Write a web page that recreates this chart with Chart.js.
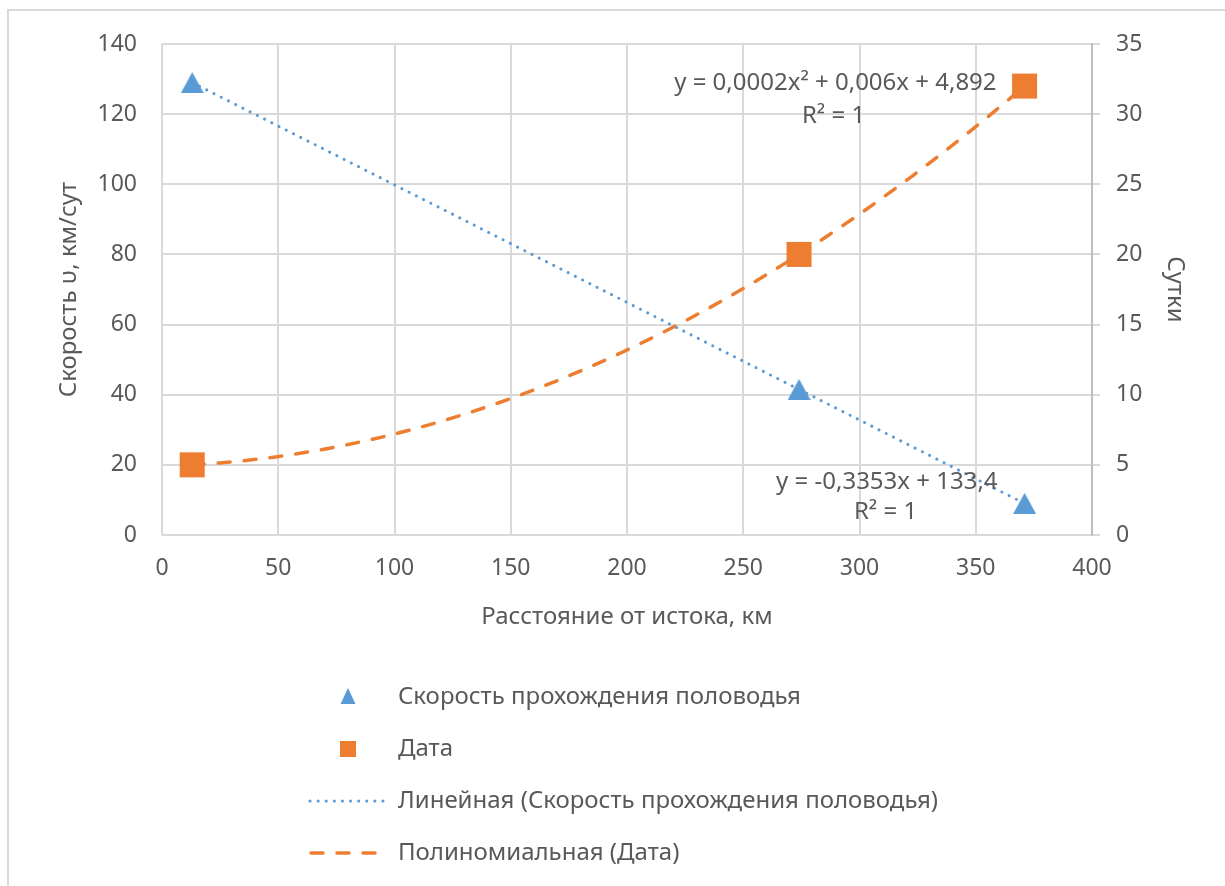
<!DOCTYPE html>
<html><head><meta charset="utf-8">
<script src="https://cdn.jsdelivr.net/npm/chart.js@4"></script>
<style>
html,body{margin:0;padding:0;background:#fff;overflow:hidden;width:1225px;height:886px}
#frame{position:absolute;left:7px;top:9px;width:1400px;height:1000px;border:2px solid #d9d9d9;box-sizing:border-box}
#wrap{position:absolute;left:0;top:0;width:1225px;height:886px}
</style></head><body>
<div id="frame"></div>
<div id="wrap"><canvas id="c"></canvas></div>
<script>
// ---- data ----
const distanceKm = [13, 274, 371];
const speedKmPerDay = [129, 41.5, 9];
const days = [5, 20, 32];
const seriesNames = ['Скорость прохождения половодья', 'Дата',
  'Линейная (Скорость прохождения половодья)', 'Полиномиальная (Дата)'];
const trendEquations = ['y = -0,3353x + 133,4', 'y = 0,0002x² + 0,006x + 4,892'];
const trendR2 = ['R² = 1', 'R² = 1'];
const xTitle = 'Расстояние от истока, км';
const yTitle = 'Скорость υ, км/сут';
const y2Title = 'Сутки';

const FONT = '"Noto Sans", "Open Sans", sans-serif';
const TXT = '#595959';
const GRID = '#d9d9d9';
const BLUE = '#5B9BD5';
const ORANGE = '#ED7D31';

// least squares fits (as the spreadsheet trendlines do)
function fitLinear(xs, ys) {
  const n = xs.length;
  const mx = xs.reduce((a, b) => a + b) / n, my = ys.reduce((a, b) => a + b) / n;
  let sxy = 0, sxx = 0;
  for (let i = 0; i < n; i++) { sxy += (xs[i] - mx) * (ys[i] - my); sxx += (xs[i] - mx) ** 2; }
  const b = sxy / sxx; return [my - b * mx, b];
}
function fitQuad(xs, ys) {
  const S = k => xs.reduce((a, x) => a + x ** k, 0);
  const T = k => xs.reduce((a, x, i) => a + ys[i] * x ** k, 0);
  const M = [[S(0), S(1), S(2), T(0)], [S(1), S(2), S(3), T(1)], [S(2), S(3), S(4), T(2)]];
  for (let i = 0; i < 3; i++) {
    for (let j = i + 1; j < 3; j++) {
      const f = M[j][i] / M[i][i];
      for (let k = i; k < 4; k++) M[j][k] -= f * M[i][k];
    }
  }
  const c = [0, 0, 0];
  for (let i = 2; i >= 0; i--) {
    let s = M[i][3];
    for (let k = i + 1; k < 3; k++) s -= M[i][k] * c[k];
    c[i] = s / M[i][i];
  }
  return c;
}
const lin = fitLinear(distanceKm, speedKmPerDay);
const quad = fitQuad(distanceKm, days);
const xMin = Math.min(...distanceKm), xMax = Math.max(...distanceKm);
const linPts = [xMin, xMax].map(x => ({x, y: lin[0] + lin[1] * x}));
const quadPts = [];
for (let i = 0; i <= 60; i++) {
  const x = xMin + (xMax - xMin) * i / 60;
  quadPts.push({x, y: quad[0] + quad[1] * x + quad[2] * x * x});
}

// triangle marker centred on its bounding box (as in the spreadsheet)
function makeTriangle(w, h, color) {
  const c = document.createElement('canvas');
  c.width = w; c.height = h;
  const g = c.getContext('2d');
  g.fillStyle = color;
  g.beginPath(); g.moveTo(w / 2, 0); g.lineTo(w, h); g.lineTo(0, h); g.closePath(); g.fill();
  return c;
}
const triMarker = makeTriangle(23, 21, BLUE);

const legendPlugin = {
  id: 'vlegend',
  afterDraw(chart) {
    const ctx = chart.ctx;
    ctx.save();
    const rows = [697, 749, 801, 853];
    const symX = 348, textX = 398;
    ctx.font = '24px ' + FONT;
    ctx.fillStyle = TXT;
    ctx.textBaseline = 'middle';
    ctx.textAlign = 'left';
    seriesNames.forEach((t, i) => ctx.fillText(t, textX, rows[i]));
    ctx.fillStyle = BLUE;
    ctx.beginPath();
    ctx.moveTo(symX, rows[0] - 9); ctx.lineTo(symX + 7.5, rows[0] + 7); ctx.lineTo(symX - 7.5, rows[0] + 7);
    ctx.closePath(); ctx.fill();
    ctx.fillStyle = ORANGE;
    ctx.fillRect(symX - 8, rows[1] - 8, 16, 16);
    ctx.lineCap = 'round';
    ctx.strokeStyle = BLUE; ctx.lineWidth = 3; ctx.setLineDash([0.1, 8]);
    ctx.beginPath(); ctx.moveTo(310, rows[2]); ctx.lineTo(384, rows[2]); ctx.stroke();
    ctx.strokeStyle = ORANGE; ctx.lineWidth = 3.5; ctx.setLineDash([12, 14]);
    ctx.beginPath(); ctx.moveTo(311, rows[3]); ctx.lineTo(388, rows[3]); ctx.stroke();
    ctx.restore();
  }
};

const labelPlugin = {
  id: 'trendLabels',
  afterDatasetsDraw(chart) {
    const ctx = chart.ctx;
    const xs = chart.scales.x, y2 = chart.scales.y2, y = chart.scales.y;
    ctx.save();
    ctx.font = '24px ' + FONT;
    ctx.fillStyle = TXT;
    ctx.textBaseline = 'middle';
    const px = xs.getPixelForValue(distanceKm[2]), py = y2.getPixelForValue(days[2]);
    ctx.textAlign = 'right';
    ctx.fillText(trendEquations[1], px - 28, py - 3);
    ctx.textAlign = 'center';
    ctx.fillText(trendR2[1], px - 191, py + 30);
    const qx = xs.getPixelForValue(distanceKm[2]), qy = y.getPixelForValue(speedKmPerDay[2]);
    ctx.textAlign = 'right';
    ctx.fillText(trendEquations[0], qx - 27, qy - 21);
    ctx.textAlign = 'center';
    ctx.fillText(trendR2[0], qx - 139, qy + 9);
    ctx.restore();
  }
};

new Chart(document.getElementById('c'), {
  type: 'scatter',
  data: {
    datasets: [
      {label: seriesNames[0], data: distanceKm.map((x, i) => ({x, y: speedKmPerDay[i]})), yAxisID: 'y',
       pointStyle: triMarker, pointRadius: 12, backgroundColor: BLUE, borderColor: BLUE, borderWidth: 0},
      {label: seriesNames[1], data: distanceKm.map((x, i) => ({x, y: days[i]})), yAxisID: 'y2',
       pointStyle: 'rect', pointRadius: 17.7, backgroundColor: ORANGE, borderColor: ORANGE, borderWidth: 0},
      {label: seriesNames[2], data: linPts, yAxisID: 'y', showLine: true, pointRadius: 0,
       borderColor: BLUE, borderWidth: 3, borderDash: [0.1, 8], borderCapStyle: 'round', fill: false},
      {label: seriesNames[3], data: quadPts, yAxisID: 'y2', showLine: true, pointRadius: 0, tension: 0,
       borderColor: ORANGE, borderWidth: 3.5, borderDash: [12, 14], borderCapStyle: 'round', fill: false}
    ]
  },
  options: {
    responsive: true, maintainAspectRatio: false, animation: false,
    layout: {padding: {left: 0, right: 0, top: 44, bottom: 254}},
    plugins: {legend: {display: false}, tooltip: {enabled: false}},
    scales: {
      x: {
        type: 'linear', min: 0, max: 400,
        ticks: {stepSize: 50, color: TXT, font: {size: 23, family: FONT}, padding: 20},
        grid: {color: GRID, lineWidth: 2, drawTicks: false},
        border: {display: false},
        title: {display: true, text: xTitle, color: TXT, font: {size: 24, family: FONT}, padding: 0},
        afterFit(s) { s.height = 97; }
      },
      y: {
        type: 'linear', position: 'left', min: 0, max: 140,
        ticks: {stepSize: 20, color: TXT, font: {size: 23, family: FONT}, padding: 25},
        grid: {color: GRID, lineWidth: 2, drawTicks: false},
        border: {display: false},
        title: {display: true, text: yTitle, color: TXT, font: {size: 24, family: FONT}, padding: {top: 55, bottom: 0}},
        afterFit(s) { s.width = 162; }
      },
      y2: {
        type: 'linear', position: 'right', min: 0, max: 35,
        ticks: {stepSize: 5, color: TXT, font: {size: 23, family: FONT}, padding: 16},
        grid: {drawOnChartArea: false, color: GRID, lineWidth: 2, tickLength: 8},
        border: {display: true, color: '#bfbfbf', width: 2},
        title: {display: true, text: y2Title, color: TXT, font: {size: 24, family: FONT}, padding: {top: 36, bottom: 0}},
        afterFit(s) { s.width = 133; }
      }
    }
  },
  plugins: [legendPlugin, labelPlugin]
});
</script>
</body></html>
